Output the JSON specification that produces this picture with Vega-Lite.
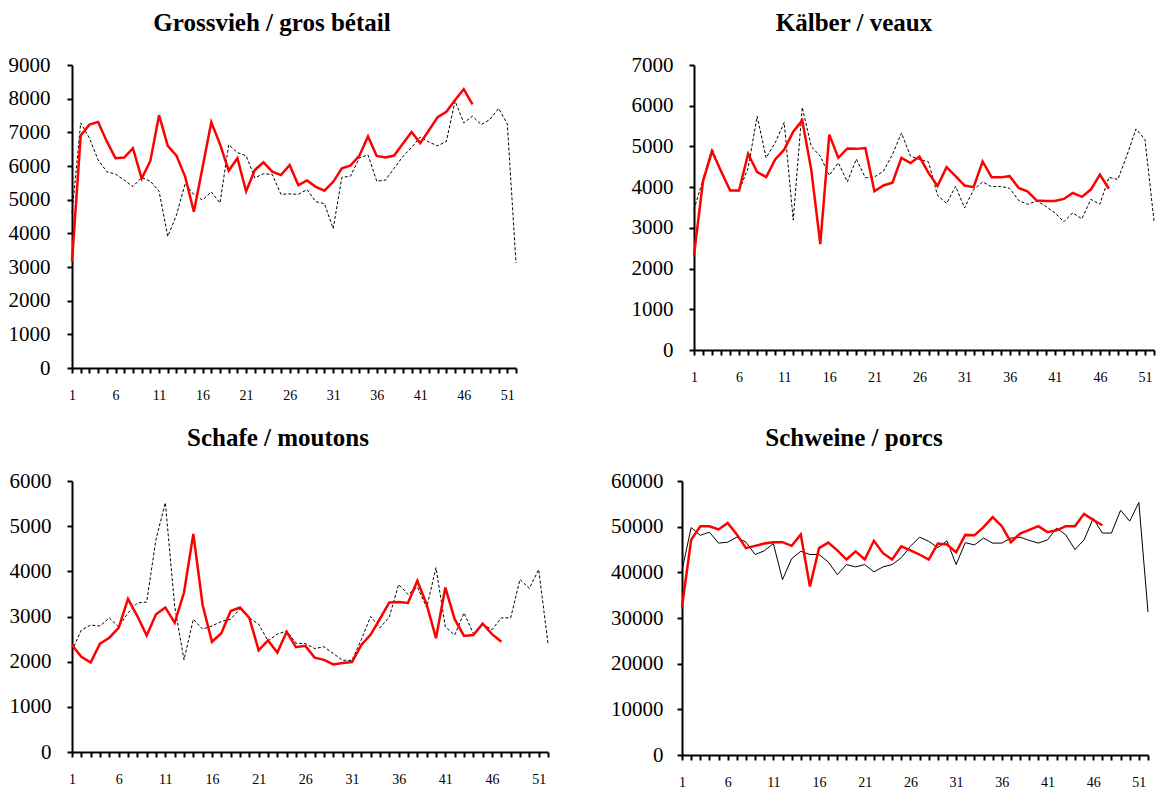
{
  "$schema": "https://vega.github.io/schema/vega-lite/v6.json",
  "padding": {"left": 8, "top": 11, "right": 0, "bottom": 0},
  "background": "white",
  "spacing": 24,
  "datasets": {
    "gross": [
      {"w":1,"s":"prev","v":4600},{"w":2,"s":"prev","v":7280},{"w":3,"s":"prev","v":6830},{"w":4,"s":"prev","v":6180},{"w":5,"s":"prev","v":5830},{"w":6,"s":"prev","v":5760},{"w":7,"s":"prev","v":5580},{"w":8,"s":"prev","v":5390},{"w":9,"s":"prev","v":5660},{"w":10,"s":"prev","v":5550},{"w":11,"s":"prev","v":5250},{"w":12,"s":"prev","v":3910},{"w":13,"s":"prev","v":4540},{"w":14,"s":"prev","v":5480},{"w":15,"s":"prev","v":5150},{"w":16,"s":"prev","v":4990},{"w":17,"s":"prev","v":5230},{"w":18,"s":"prev","v":4900},{"w":19,"s":"prev","v":6630},{"w":20,"s":"prev","v":6400},{"w":21,"s":"prev","v":6300},{"w":22,"s":"prev","v":5650},{"w":23,"s":"prev","v":5770},{"w":24,"s":"prev","v":5750},{"w":25,"s":"prev","v":5160},{"w":26,"s":"prev","v":5170},{"w":27,"s":"prev","v":5160},{"w":28,"s":"prev","v":5300},{"w":29,"s":"prev","v":4940},{"w":30,"s":"prev","v":4880},{"w":31,"s":"prev","v":4140},{"w":32,"s":"prev","v":5660},{"w":33,"s":"prev","v":5700},{"w":34,"s":"prev","v":6240},{"w":35,"s":"prev","v":6330},{"w":36,"s":"prev","v":5550},{"w":37,"s":"prev","v":5580},{"w":38,"s":"prev","v":5930},{"w":39,"s":"prev","v":6280},{"w":40,"s":"prev","v":6550},{"w":41,"s":"prev","v":6860},{"w":42,"s":"prev","v":6710},{"w":43,"s":"prev","v":6600},{"w":44,"s":"prev","v":6730},{"w":45,"s":"prev","v":7930},{"w":46,"s":"prev","v":7280},{"w":47,"s":"prev","v":7480},{"w":48,"s":"prev","v":7230},{"w":49,"s":"prev","v":7380},{"w":50,"s":"prev","v":7710},{"w":51,"s":"prev","v":7250},{"w":52,"s":"prev","v":3120},
      {"w":1,"s":"curr","v":3160},{"w":2,"s":"curr","v":6910},{"w":3,"s":"curr","v":7230},{"w":4,"s":"curr","v":7310},{"w":5,"s":"curr","v":6730},{"w":6,"s":"curr","v":6230},{"w":7,"s":"curr","v":6250},{"w":8,"s":"curr","v":6530},{"w":9,"s":"curr","v":5630},{"w":10,"s":"curr","v":6150},{"w":11,"s":"curr","v":7510},{"w":12,"s":"curr","v":6600},{"w":13,"s":"curr","v":6310},{"w":14,"s":"curr","v":5680},{"w":15,"s":"curr","v":4640},{"w":16,"s":"curr","v":5960},{"w":17,"s":"curr","v":7300},{"w":18,"s":"curr","v":6650},{"w":19,"s":"curr","v":5860},{"w":20,"s":"curr","v":6230},{"w":21,"s":"curr","v":5250},{"w":22,"s":"curr","v":5880},{"w":23,"s":"curr","v":6110},{"w":24,"s":"curr","v":5830},{"w":25,"s":"curr","v":5730},{"w":26,"s":"curr","v":6030},{"w":27,"s":"curr","v":5430},{"w":28,"s":"curr","v":5570},{"w":29,"s":"curr","v":5380},{"w":30,"s":"curr","v":5265},{"w":31,"s":"curr","v":5530},{"w":32,"s":"curr","v":5930},{"w":33,"s":"curr","v":6020},{"w":34,"s":"curr","v":6300},{"w":35,"s":"curr","v":6880},{"w":36,"s":"curr","v":6300},{"w":37,"s":"curr","v":6250},{"w":38,"s":"curr","v":6310},{"w":39,"s":"curr","v":6660},{"w":40,"s":"curr","v":7010},{"w":41,"s":"curr","v":6680},{"w":42,"s":"curr","v":7060},{"w":43,"s":"curr","v":7450},{"w":44,"s":"curr","v":7610},{"w":45,"s":"curr","v":7960},{"w":46,"s":"curr","v":8280},{"w":47,"s":"curr","v":7830}
    ],
    "kalb": [
      {"w":1,"s":"prev","v":3450},{"w":2,"s":"prev","v":4190},{"w":3,"s":"prev","v":4950},{"w":4,"s":"prev","v":4390},{"w":5,"s":"prev","v":3920},{"w":6,"s":"prev","v":3910},{"w":7,"s":"prev","v":4470},{"w":8,"s":"prev","v":5740},{"w":9,"s":"prev","v":4720},{"w":10,"s":"prev","v":5090},{"w":11,"s":"prev","v":5590},{"w":12,"s":"prev","v":3190},{"w":13,"s":"prev","v":5960},{"w":14,"s":"prev","v":5000},{"w":15,"s":"prev","v":4760},{"w":16,"s":"prev","v":4290},{"w":17,"s":"prev","v":4600},{"w":18,"s":"prev","v":4130},{"w":19,"s":"prev","v":4690},{"w":20,"s":"prev","v":4230},{"w":21,"s":"prev","v":4250},{"w":22,"s":"prev","v":4390},{"w":23,"s":"prev","v":4800},{"w":24,"s":"prev","v":5330},{"w":25,"s":"prev","v":4760},{"w":26,"s":"prev","v":4680},{"w":27,"s":"prev","v":4620},{"w":28,"s":"prev","v":3800},{"w":29,"s":"prev","v":3600},{"w":30,"s":"prev","v":4020},{"w":31,"s":"prev","v":3490},{"w":32,"s":"prev","v":3940},{"w":33,"s":"prev","v":4130},{"w":34,"s":"prev","v":4010},{"w":35,"s":"prev","v":4020},{"w":36,"s":"prev","v":3970},{"w":37,"s":"prev","v":3670},{"w":38,"s":"prev","v":3580},{"w":39,"s":"prev","v":3660},{"w":40,"s":"prev","v":3530},{"w":41,"s":"prev","v":3370},{"w":42,"s":"prev","v":3150},{"w":43,"s":"prev","v":3370},{"w":44,"s":"prev","v":3220},{"w":45,"s":"prev","v":3700},{"w":46,"s":"prev","v":3580},{"w":47,"s":"prev","v":4240},{"w":48,"s":"prev","v":4190},{"w":49,"s":"prev","v":4780},{"w":50,"s":"prev","v":5430},{"w":51,"s":"prev","v":5170},{"w":52,"s":"prev","v":3170},
      {"w":1,"s":"curr","v":2330},{"w":2,"s":"curr","v":4150},{"w":3,"s":"curr","v":4880},{"w":4,"s":"curr","v":4390},{"w":5,"s":"curr","v":3920},{"w":6,"s":"curr","v":3920},{"w":7,"s":"curr","v":4820},{"w":8,"s":"curr","v":4370},{"w":9,"s":"curr","v":4250},{"w":10,"s":"curr","v":4680},{"w":11,"s":"curr","v":4920},{"w":12,"s":"curr","v":5360},{"w":13,"s":"curr","v":5640},{"w":14,"s":"curr","v":4430},{"w":15,"s":"curr","v":2600},{"w":16,"s":"curr","v":5290},{"w":17,"s":"curr","v":4720},{"w":18,"s":"curr","v":4950},{"w":19,"s":"curr","v":4940},{"w":20,"s":"curr","v":4960},{"w":21,"s":"curr","v":3900},{"w":22,"s":"curr","v":4040},{"w":23,"s":"curr","v":4110},{"w":24,"s":"curr","v":4720},{"w":25,"s":"curr","v":4590},{"w":26,"s":"curr","v":4750},{"w":27,"s":"curr","v":4350},{"w":28,"s":"curr","v":4030},{"w":29,"s":"curr","v":4490},{"w":30,"s":"curr","v":4270},{"w":31,"s":"curr","v":4040},{"w":32,"s":"curr","v":4000},{"w":33,"s":"curr","v":4630},{"w":34,"s":"curr","v":4240},{"w":35,"s":"curr","v":4240},{"w":36,"s":"curr","v":4270},{"w":37,"s":"curr","v":3980},{"w":38,"s":"curr","v":3890},{"w":39,"s":"curr","v":3670},{"w":40,"s":"curr","v":3660},{"w":41,"s":"curr","v":3660},{"w":42,"s":"curr","v":3710},{"w":43,"s":"curr","v":3860},{"w":44,"s":"curr","v":3760},{"w":45,"s":"curr","v":3940},{"w":46,"s":"curr","v":4310},{"w":47,"s":"curr","v":3960}
    ],
    "schafe": [
      {"w":1,"s":"prev","v":2240},{"w":2,"s":"prev","v":2700},{"w":3,"s":"prev","v":2810},{"w":4,"s":"prev","v":2790},{"w":5,"s":"prev","v":2970},{"w":6,"s":"prev","v":2770},{"w":7,"s":"prev","v":3080},{"w":8,"s":"prev","v":3300},{"w":9,"s":"prev","v":3320},{"w":10,"s":"prev","v":4710},{"w":11,"s":"prev","v":5520},{"w":12,"s":"prev","v":3230},{"w":13,"s":"prev","v":2040},{"w":14,"s":"prev","v":2940},{"w":15,"s":"prev","v":2720},{"w":16,"s":"prev","v":2790},{"w":17,"s":"prev","v":2890},{"w":18,"s":"prev","v":2940},{"w":19,"s":"prev","v":3170},{"w":20,"s":"prev","v":2970},{"w":21,"s":"prev","v":2830},{"w":22,"s":"prev","v":2460},{"w":23,"s":"prev","v":2610},{"w":24,"s":"prev","v":2680},{"w":25,"s":"prev","v":2410},{"w":26,"s":"prev","v":2400},{"w":27,"s":"prev","v":2290},{"w":28,"s":"prev","v":2330},{"w":29,"s":"prev","v":2180},{"w":30,"s":"prev","v":2030},{"w":31,"s":"prev","v":2030},{"w":32,"s":"prev","v":2490},{"w":33,"s":"prev","v":3000},{"w":34,"s":"prev","v":2750},{"w":35,"s":"prev","v":2990},{"w":36,"s":"prev","v":3710},{"w":37,"s":"prev","v":3490},{"w":38,"s":"prev","v":3650},{"w":39,"s":"prev","v":3200},{"w":40,"s":"prev","v":4080},{"w":41,"s":"prev","v":2770},{"w":42,"s":"prev","v":2590},{"w":43,"s":"prev","v":3080},{"w":44,"s":"prev","v":2620},{"w":45,"s":"prev","v":2830},{"w":46,"s":"prev","v":2710},{"w":47,"s":"prev","v":2970},{"w":48,"s":"prev","v":2970},{"w":49,"s":"prev","v":3820},{"w":50,"s":"prev","v":3620},{"w":51,"s":"prev","v":4040},{"w":52,"s":"prev","v":2410},
      {"w":1,"s":"curr","v":2370},{"w":2,"s":"curr","v":2110},{"w":3,"s":"curr","v":1980},{"w":4,"s":"curr","v":2400},{"w":5,"s":"curr","v":2530},{"w":6,"s":"curr","v":2750},{"w":7,"s":"curr","v":3390},{"w":8,"s":"curr","v":3010},{"w":9,"s":"curr","v":2580},{"w":10,"s":"curr","v":3050},{"w":11,"s":"curr","v":3200},{"w":12,"s":"curr","v":2860},{"w":13,"s":"curr","v":3530},{"w":14,"s":"curr","v":4830},{"w":15,"s":"curr","v":3250},{"w":16,"s":"curr","v":2440},{"w":17,"s":"curr","v":2630},{"w":18,"s":"curr","v":3120},{"w":19,"s":"curr","v":3200},{"w":20,"s":"curr","v":2970},{"w":21,"s":"curr","v":2250},{"w":22,"s":"curr","v":2470},{"w":23,"s":"curr","v":2200},{"w":24,"s":"curr","v":2660},{"w":25,"s":"curr","v":2320},{"w":26,"s":"curr","v":2350},{"w":27,"s":"curr","v":2090},{"w":28,"s":"curr","v":2040},{"w":29,"s":"curr","v":1940},{"w":30,"s":"curr","v":1970},{"w":31,"s":"curr","v":1990},{"w":32,"s":"curr","v":2370},{"w":33,"s":"curr","v":2600},{"w":34,"s":"curr","v":2950},{"w":35,"s":"curr","v":3310},{"w":36,"s":"curr","v":3320},{"w":37,"s":"curr","v":3300},{"w":38,"s":"curr","v":3790},{"w":39,"s":"curr","v":3270},{"w":40,"s":"curr","v":2520},{"w":41,"s":"curr","v":3640},{"w":42,"s":"curr","v":2940},{"w":43,"s":"curr","v":2570},{"w":44,"s":"curr","v":2590},{"w":45,"s":"curr","v":2840},{"w":46,"s":"curr","v":2610},{"w":47,"s":"curr","v":2440}
    ],
    "schwein": [
      {"w":1,"s":"prev","v":40400},{"w":2,"s":"prev","v":49800},{"w":3,"s":"prev","v":48100},{"w":4,"s":"prev","v":48800},{"w":5,"s":"prev","v":46400},{"w":6,"s":"prev","v":46600},{"w":7,"s":"prev","v":47700},{"w":8,"s":"prev","v":46600},{"w":9,"s":"prev","v":43900},{"w":10,"s":"prev","v":44700},{"w":11,"s":"prev","v":46300},{"w":12,"s":"prev","v":38400},{"w":13,"s":"prev","v":43000},{"w":14,"s":"prev","v":44600},{"w":15,"s":"prev","v":43900},{"w":16,"s":"prev","v":43900},{"w":17,"s":"prev","v":42300},{"w":18,"s":"prev","v":39500},{"w":19,"s":"prev","v":41700},{"w":20,"s":"prev","v":41200},{"w":21,"s":"prev","v":41700},{"w":22,"s":"prev","v":40100},{"w":23,"s":"prev","v":41200},{"w":24,"s":"prev","v":41700},{"w":25,"s":"prev","v":43200},{"w":26,"s":"prev","v":45700},{"w":27,"s":"prev","v":47700},{"w":28,"s":"prev","v":46800},{"w":29,"s":"prev","v":45400},{"w":30,"s":"prev","v":46900},{"w":31,"s":"prev","v":41700},{"w":32,"s":"prev","v":46500},{"w":33,"s":"prev","v":46000},{"w":34,"s":"prev","v":47500},{"w":35,"s":"prev","v":46400},{"w":36,"s":"prev","v":46400},{"w":37,"s":"prev","v":47500},{"w":38,"s":"prev","v":47700},{"w":39,"s":"prev","v":47000},{"w":40,"s":"prev","v":46400},{"w":41,"s":"prev","v":47100},{"w":42,"s":"prev","v":49700},{"w":43,"s":"prev","v":48200},{"w":44,"s":"prev","v":45000},{"w":45,"s":"prev","v":47100},{"w":46,"s":"prev","v":51800},{"w":47,"s":"prev","v":48600},{"w":48,"s":"prev","v":48600},{"w":49,"s":"prev","v":53600},{"w":50,"s":"prev","v":51200},{"w":51,"s":"prev","v":55300},{"w":52,"s":"prev","v":31300},
      {"w":1,"s":"curr","v":32400},{"w":2,"s":"curr","v":47100},{"w":3,"s":"curr","v":50100},{"w":4,"s":"curr","v":50100},{"w":5,"s":"curr","v":49400},{"w":6,"s":"curr","v":50800},{"w":7,"s":"curr","v":48300},{"w":8,"s":"curr","v":45300},{"w":9,"s":"curr","v":45800},{"w":10,"s":"curr","v":46300},{"w":11,"s":"curr","v":46600},{"w":12,"s":"curr","v":46600},{"w":13,"s":"curr","v":45800},{"w":14,"s":"curr","v":48300},{"w":15,"s":"curr","v":36900},{"w":16,"s":"curr","v":45300},{"w":17,"s":"curr","v":46500},{"w":18,"s":"curr","v":44800},{"w":19,"s":"curr","v":42800},{"w":20,"s":"curr","v":44600},{"w":21,"s":"curr","v":42800},{"w":22,"s":"curr","v":46900},{"w":23,"s":"curr","v":44200},{"w":24,"s":"curr","v":42800},{"w":25,"s":"curr","v":45700},{"w":26,"s":"curr","v":44800},{"w":27,"s":"curr","v":43900},{"w":28,"s":"curr","v":42800},{"w":29,"s":"curr","v":46300},{"w":30,"s":"curr","v":46100},{"w":31,"s":"curr","v":44400},{"w":32,"s":"curr","v":48200},{"w":33,"s":"curr","v":48100},{"w":34,"s":"curr","v":49900},{"w":35,"s":"curr","v":52100},{"w":36,"s":"curr","v":50100},{"w":37,"s":"curr","v":46600},{"w":38,"s":"curr","v":48500},{"w":39,"s":"curr","v":49300},{"w":40,"s":"curr","v":50100},{"w":41,"s":"curr","v":48800},{"w":42,"s":"curr","v":49200},{"w":43,"s":"curr","v":50100},{"w":44,"s":"curr","v":50100},{"w":45,"s":"curr","v":52800},{"w":46,"s":"curr","v":51500},{"w":47,"s":"curr","v":50300}
    ]
  },
  "vconcat": [
    {
      "spacing": 113,
      "hconcat": [
        {
          "title": {"text": "Grossvieh / gros bétail", "offset": 18, "dx": -22},
          "width": 444, "height": 303,
          "data": {"name": "gross"},
          "encoding": {
            "x": {"field": "w", "type": "quantitative", "scale": {"domain": [1, 52], "nice": false, "zero": false},
                  "axis": {"values": [1,2,3,4,5,6,7,8,9,10,11,12,13,14,15,16,17,18,19,20,21,22,23,24,25,26,27,28,29,30,31,32,33,34,35,36,37,38,39,40,41,42,43,44,45,46,47,48,49,50,51,52],
                           "labelExpr": "(datum.value - 1) % 5 == 0 ? datum.label : ''"}},
            "y": {"field": "v", "type": "quantitative", "scale": {"domain": [0, 9000], "nice": false},
                  "axis": {"values": [0,1000,2000,3000,4000,5000,6000,7000,8000,9000], "labelPadding": 17}}
          },
          "layer": [
            {"transform": [{"filter": "datum.s == 'prev'"}], "mark": {"type": "line", "color": "black", "strokeWidth": 1, "strokeDash": [3, 2]}},
            {"transform": [{"filter": "datum.s == 'curr'"}], "mark": {"type": "line", "color": "#ff0000", "strokeWidth": 2.5}}
          ]
        },
        {
          "title": {"text": "Kälber / veaux", "offset": 18, "dx": -70},
          "width": 460, "height": 285,
          "data": {"name": "kalb"},
          "encoding": {
            "x": {"field": "w", "type": "quantitative", "scale": {"domain": [1, 52], "nice": false, "zero": false},
                  "axis": {"values": [1,2,3,4,5,6,7,8,9,10,11,12,13,14,15,16,17,18,19,20,21,22,23,24,25,26,27,28,29,30,31,32,33,34,35,36,37,38,39,40,41,42,43,44,45,46,47,48,49,50,51,52],
                           "labelExpr": "(datum.value - 1) % 5 == 0 ? datum.label : ''"}},
            "y": {"field": "v", "type": "quantitative", "scale": {"domain": [0, 7000], "nice": false},
                  "axis": {"values": [0,1000,2000,3000,4000,5000,6000,7000], "labelPadding": 16}}
          },
          "layer": [
            {"transform": [{"filter": "datum.s == 'prev'"}], "mark": {"type": "line", "color": "black", "strokeWidth": 1, "strokeDash": [3, 2]}},
            {"transform": [{"filter": "datum.s == 'curr'"}], "mark": {"type": "line", "color": "#ff0000", "strokeWidth": 2.5}}
          ]
        }
      ]
    },
    {
      "spacing": 60,
      "hconcat": [
        {
          "title": {"text": "Schafe / moutons", "offset": 19, "dx": -32},
          "width": 476, "height": 271,
          "data": {"name": "schafe"},
          "encoding": {
            "x": {"field": "w", "type": "quantitative", "scale": {"domain": [1, 52], "nice": false, "zero": false},
                  "axis": {"values": [1,2,3,4,5,6,7,8,9,10,11,12,13,14,15,16,17,18,19,20,21,22,23,24,25,26,27,28,29,30,31,32,33,34,35,36,37,38,39,40,41,42,43,44,45,46,47,48,49,50,51,52],
                           "labelExpr": "(datum.value - 1) % 5 == 0 ? datum.label : ''"}},
            "y": {"field": "v", "type": "quantitative", "scale": {"domain": [0, 6000], "nice": false},
                  "axis": {"values": [0,1000,2000,3000,4000,5000,6000], "labelPadding": 16}}
          },
          "layer": [
            {"transform": [{"filter": "datum.s == 'prev'"}], "mark": {"type": "line", "color": "black", "strokeWidth": 1, "strokeDash": [3, 2]}},
            {"transform": [{"filter": "datum.s == 'curr'"}], "mark": {"type": "line", "color": "#ff0000", "strokeWidth": 2.5}}
          ]
        },
        {
          "title": {"text": "Schweine / porcs", "offset": 19, "dx": -61},
          "width": 466, "height": 274,
          "data": {"name": "schwein"},
          "encoding": {
            "x": {"field": "w", "type": "quantitative", "scale": {"domain": [1, 52], "nice": false, "zero": false},
                  "axis": {"values": [1,2,3,4,5,6,7,8,9,10,11,12,13,14,15,16,17,18,19,20,21,22,23,24,25,26,27,28,29,30,31,32,33,34,35,36,37,38,39,40,41,42,43,44,45,46,47,48,49,50,51,52],
                           "labelExpr": "(datum.value - 1) % 5 == 0 ? datum.label : ''"}},
            "y": {"field": "v", "type": "quantitative", "scale": {"domain": [0, 60000], "nice": false},
                  "axis": {"values": [0,10000,20000,30000,40000,50000,60000], "labelPadding": 14}}
          },
          "layer": [
            {"transform": [{"filter": "datum.s == 'prev'"}], "mark": {"type": "line", "color": "black", "strokeWidth": 1}},
            {"transform": [{"filter": "datum.s == 'curr'"}], "mark": {"type": "line", "color": "#ff0000", "strokeWidth": 2.5}}
          ]
        }
      ]
    }
  ],
  "config": {
    "view": {"stroke": null},
    "font": "Liberation Serif",
    "axis": {"grid": false, "title": null, "domainColor": "black", "domainWidth": 2, "tickColor": "black", "tickWidth": 2, "tickSize": 5, "labelColor": "black", "labelFont": "Liberation Serif", "labelOverlap": false, "labelFlush": false},
    "axisX": {"labelFontSize": 14, "labelPadding": 15},
    "axisY": {"labelFontSize": 21, "format": "d"},
    "title": {"font": "Liberation Serif", "fontSize": 25, "fontWeight": "bold", "color": "black"}
  }
}
